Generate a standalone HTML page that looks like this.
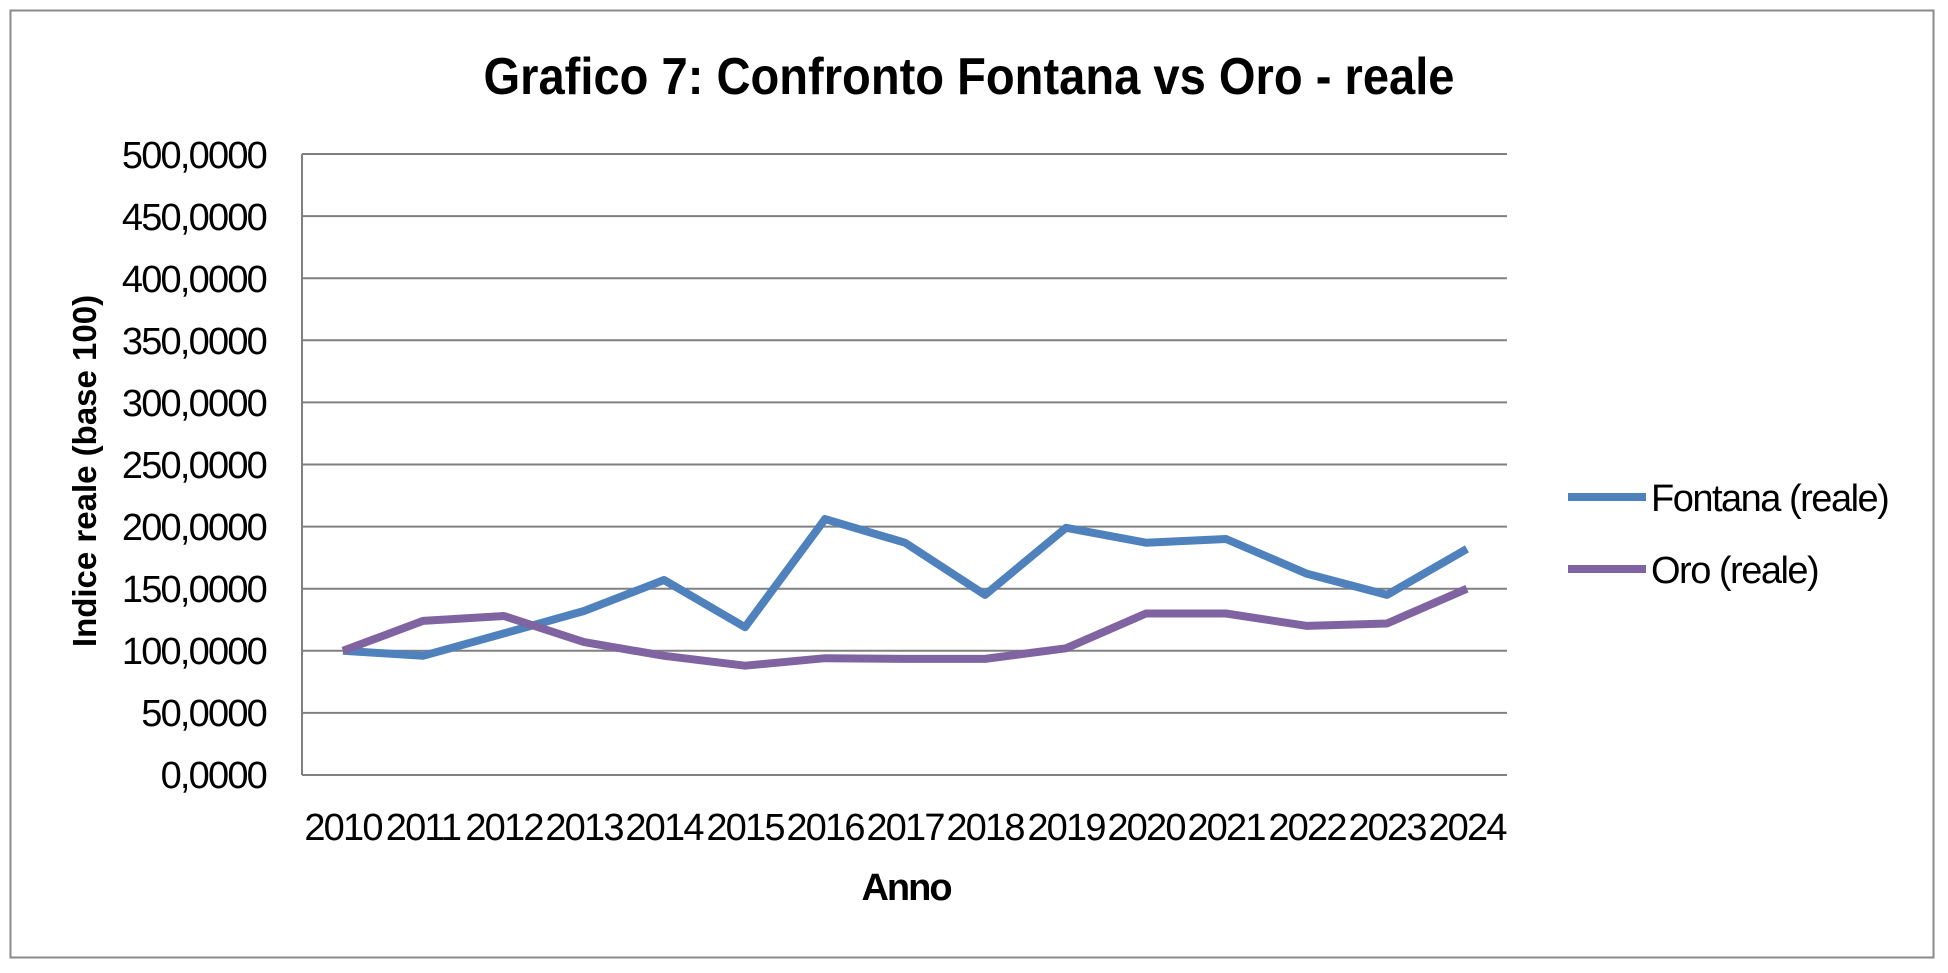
<!DOCTYPE html>
<html><head><meta charset="utf-8"><style>html,body{margin:0;padding:0;background:#fff}</style></head>
<body>
<svg width="1948" height="968" xmlns="http://www.w3.org/2000/svg" font-family="Liberation Sans, Arial, sans-serif">
<rect x="0" y="0" width="1948" height="968" fill="#fff"/>
<rect x="10.5" y="10.5" width="1923" height="947" fill="none" stroke="#8a8a8a" stroke-width="2"/>
<text x="969" y="94" font-size="52" font-weight="bold" text-anchor="middle" textLength="971" lengthAdjust="spacingAndGlyphs">Grafico 7: Confronto Fontana vs Oro - reale</text>
<g stroke="#808080" stroke-width="2">
<line x1="302" y1="154" x2="1507" y2="154"/>
<line x1="302" y1="216.1" x2="1507" y2="216.1"/>
<line x1="302" y1="278.2" x2="1507" y2="278.2"/>
<line x1="302" y1="340.3" x2="1507" y2="340.3"/>
<line x1="302" y1="402.4" x2="1507" y2="402.4"/>
<line x1="302" y1="464.5" x2="1507" y2="464.5"/>
<line x1="302" y1="526.6" x2="1507" y2="526.6"/>
<line x1="302" y1="588.7" x2="1507" y2="588.7"/>
<line x1="302" y1="650.8" x2="1507" y2="650.8"/>
<line x1="302" y1="712.9" x2="1507" y2="712.9"/>
<line x1="302" y1="775" x2="1507" y2="775"/>
<line x1="302" y1="154" x2="302" y2="775"/>
</g>
<g font-size="38" text-anchor="end" letter-spacing="-1.8">
<text x="266" y="168">500,0000</text>
<text x="266" y="230">450,0000</text>
<text x="266" y="292">400,0000</text>
<text x="266" y="354">350,0000</text>
<text x="266" y="416">300,0000</text>
<text x="266" y="478">250,0000</text>
<text x="266" y="540">200,0000</text>
<text x="266" y="602">150,0000</text>
<text x="266" y="664">100,0000</text>
<text x="266" y="726">50,0000</text>
<text x="266" y="788">0,0000</text>
</g>
<g font-size="38" text-anchor="middle" letter-spacing="-1.8">
<text x="343" y="840">2010</text><text x="423" y="840">2011</text><text x="504" y="840">2012</text>
<text x="584" y="840">2013</text><text x="664" y="840">2014</text><text x="745" y="840">2015</text>
<text x="825" y="840">2016</text><text x="905" y="840">2017</text><text x="985" y="840">2018</text>
<text x="1066" y="840">2019</text><text x="1146" y="840">2020</text><text x="1226" y="840">2021</text>
<text x="1307" y="840">2022</text><text x="1387" y="840">2023</text><text x="1467" y="840">2024</text>
</g>
<text x="906" y="900" font-size="38" font-weight="bold" text-anchor="middle" letter-spacing="-2">Anno</text>
<text transform="translate(96,471) rotate(-90)" font-size="33" font-weight="bold" text-anchor="middle">Indice reale (base 100)</text>
<polyline fill="none" stroke="#4F81BD" stroke-width="8" stroke-linejoin="round" points="343,650.8 423,655.8 504,633.4 584,611 664,580 745,627.2 825,519.1 905,542.7 985,594.9 1066,527.8 1146,542.7 1226,539 1307,573.8 1387,594.9 1467,548.9"/>
<polyline fill="none" stroke="#8064A2" stroke-width="8" stroke-linejoin="round" points="343,650.8 423,620.9 504,616 584,642.1 664,655.8 745,665.7 825,658.2 905,658.9 985,658.9 1066,648.3 1146,613.5 1226,613.5 1307,625.9 1387,623.5 1467,588.7"/>
<line x1="1568" y1="497" x2="1646" y2="497" stroke="#4F81BD" stroke-width="8"/>
<text x="1651" y="511" font-size="38" letter-spacing="-1.5">Fontana (reale)</text>
<line x1="1568" y1="569" x2="1646" y2="569" stroke="#8064A2" stroke-width="8"/>
<text x="1651" y="583" font-size="38" letter-spacing="-1.5">Oro (reale)</text>
</svg>
</body></html>
